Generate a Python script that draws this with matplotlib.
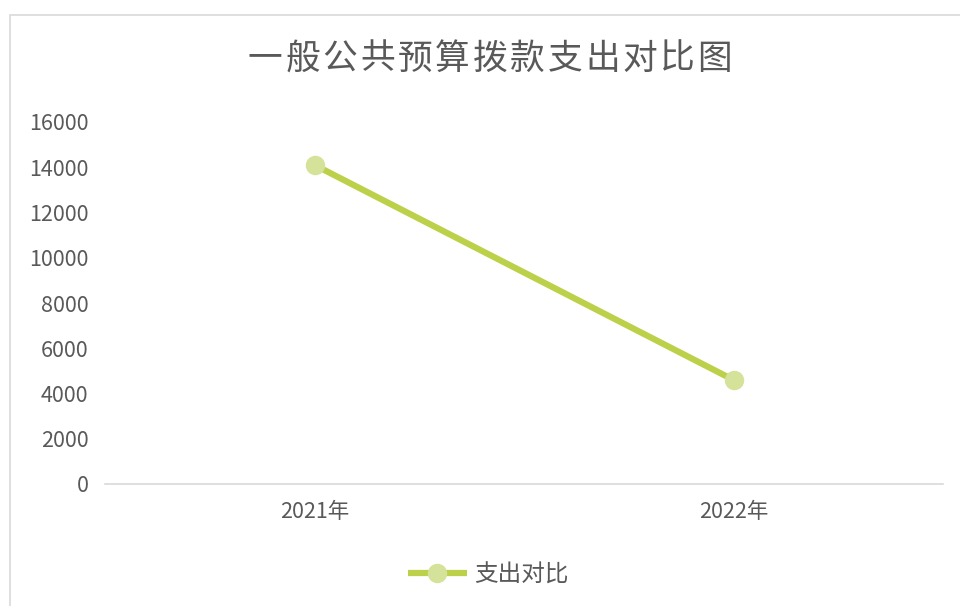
import matplotlib.pyplot as plt
from matplotlib.patches import Rectangle

plt.rcParams['font.family'] = ['Noto Sans CJK SC', 'DejaVu Sans']

categories = ['2021年', '2022年']
values = [14100, 4600]
series_name = '支出对比'
title = '一般公共预算拨款支出对比图'

line_color = '#BDD04A'
marker_color = '#D5E29A'
text_color = '#595959'

fig = plt.figure(figsize=(9.6, 6.06), dpi=100)
# chart area border
fig.patches.append(Rectangle((10 / 960, -0.1), 1.2, 1 - 15 / 606 + 0.1,
                             transform=fig.transFigure, fill=False,
                             edgecolor='#D9D9D9', linewidth=1.2))

ax = fig.add_axes([105 / 960, 1 - 484 / 606, (943 - 105) / 960, (484 - 122) / 606])
x = range(len(categories))
ax.plot(x, values, color=line_color, linewidth=4.5, marker='o', markersize=13,
        markerfacecolor=marker_color, markeredgecolor=marker_color,
        label=series_name, solid_capstyle='butt')

ax.set_xlim(-0.5, len(categories) - 0.5)
ax.set_ylim(0, 16000)
ax.set_yticks(range(0, 16001, 2000))
ax.set_xticks(list(x))
ax.set_xticklabels(categories)
ax.tick_params(axis='both', length=0, labelsize=15.5, labelcolor=text_color)
ax.tick_params(axis='x', pad=12)
ax.tick_params(axis='y', pad=12)
for side in ['top', 'right', 'left']:
    ax.spines[side].set_visible(False)
ax.spines['bottom'].set_color('#D9D9D9')
ax.spines['bottom'].set_linewidth(1.2)

# title drawn with wide letter spacing, one character at a time
step = 37.5 / 960
start = 490 / 960 - step * (len(title) - 1) / 2
for i, ch in enumerate(title):
    fig.text(start + i * step, 1 - 59 / 606, ch, ha='center', va='center',
             fontsize=25, color=text_color)

fig.legend(loc='center', bbox_to_anchor=(0.5 + 8 / 960, 1 - 575 / 606), frameon=False,
           fontsize=17, labelcolor=text_color, handlelength=2.5,
           handletextpad=0.3)

fig.savefig('out.png', dpi=100)
